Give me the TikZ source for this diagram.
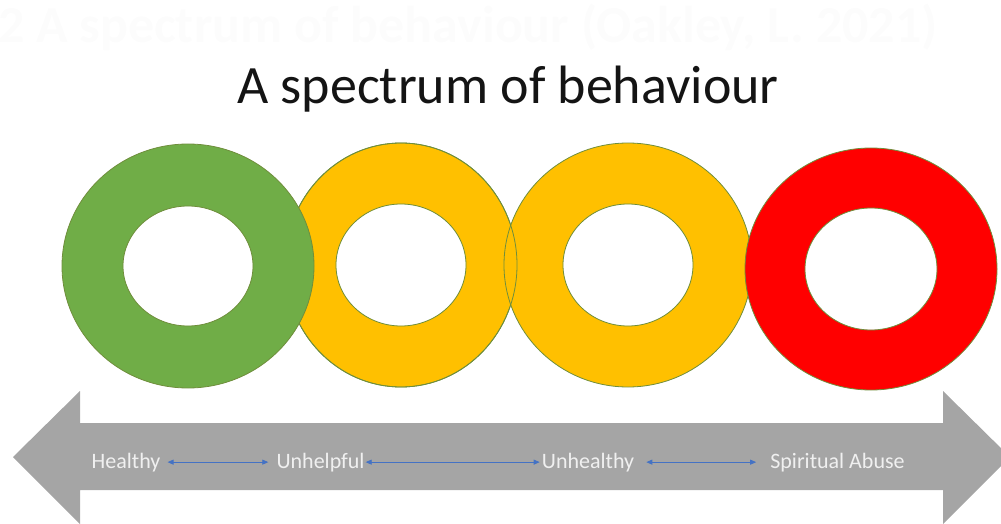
\documentclass[tikz,border=0pt]{standalone}
\usepackage{fontspec}
\setmainfont{Carlito}
\usetikzlibrary{arrows.meta}

\definecolor{ringgreen}{HTML}{70AD47}
\definecolor{ringyellow}{HTML}{FFC000}
\definecolor{ringred}{HTML}{FF0000}
\definecolor{ringedge}{HTML}{6F8E3C}
\definecolor{bargray}{HTML}{A5A5A5}
\definecolor{linkblue}{HTML}{4472C4}

\tikzset{
  ring/.style={draw=ringedge, line width=0.8pt, even odd rule},
  stage/.style={inner sep=0pt, anchor=base, text=white!94!black,
    font=\fontsize{22}{24}\selectfont},
  link/.style={draw=linkblue, line width=0.8pt,
    {Triangle[length=6pt,width=5pt]}-{Triangle[length=6pt,width=5pt]}}
}

\begin{document}
\begin{tikzpicture}[x=1pt,y=1pt]

\useasboundingbox (0,0) rectangle (1001,523);

% faint heading left over behind the title
\node[anchor=base east, inner sep=0pt, text=black!1,
  font=\bfseries\fontsize{52}{56}\selectfont] (oldhead) at (938,480)
  {2 A spectrum of behaviour (Oakley, L. 2021)};

\node[anchor=base, inner sep=0pt, text=black!92,
  font=\fontsize{54}{58}\selectfont] (title) at (508,419)
  {A spectrum of behaviour};

% the four rings
\coordinate (c1) at (188,257);
\coordinate (c2) at (401,258);
\coordinate (c3) at (628,258);
\coordinate (c4) at (871,254);

\path[ring, fill=ringyellow] (c2) ellipse[x radius=116, y radius=122]
  (c2) ellipse[x radius=65, y radius=61];
\path[ring, fill=ringyellow] (c3) ellipse[x radius=124, y radius=122]
  (c3) ellipse[x radius=65, y radius=61];
\draw[ringedge, line width=0.8pt] (c2) ellipse[x radius=116, y radius=122];
\path[ring, fill=ringred] (c4) ellipse[x radius=126, y radius=121]
  (c4) ellipse[x radius=66, y radius=61];
\path[ring, fill=ringgreen] (c1) ellipse[x radius=126, y radius=122]
  (c1) ellipse[x radius=65, y radius=60];

% double arrow underneath
\fill[bargray] (13,66) -- (80,132) -- (80,100) -- (943,100) -- (943,132)
  -- (1010,66) -- (943,-1) -- (943,33) -- (80,33) -- (80,-1) -- cycle;

\node[stage] (healthy)   at (126,55)   {Healthy};
\node[stage] (unhelpful) at (320.5,55) {Unhelpful};
\node[stage] (unhealthy) at (588,55)   {Unhealthy};
\node[stage] (abuse)     at (837.5,55) {Spiritual Abuse};

\draw[link, shorten <=7pt, shorten >=8pt] (healthy.east) -- (unhelpful.west);
\draw[link, shorten <=1pt, shorten >=2pt] (unhelpful.east) -- (unhealthy.west);
\draw[link, shorten <=12pt, shorten >=14pt] (unhealthy.east) -- (abuse.west);

\end{tikzpicture}
\end{document}
